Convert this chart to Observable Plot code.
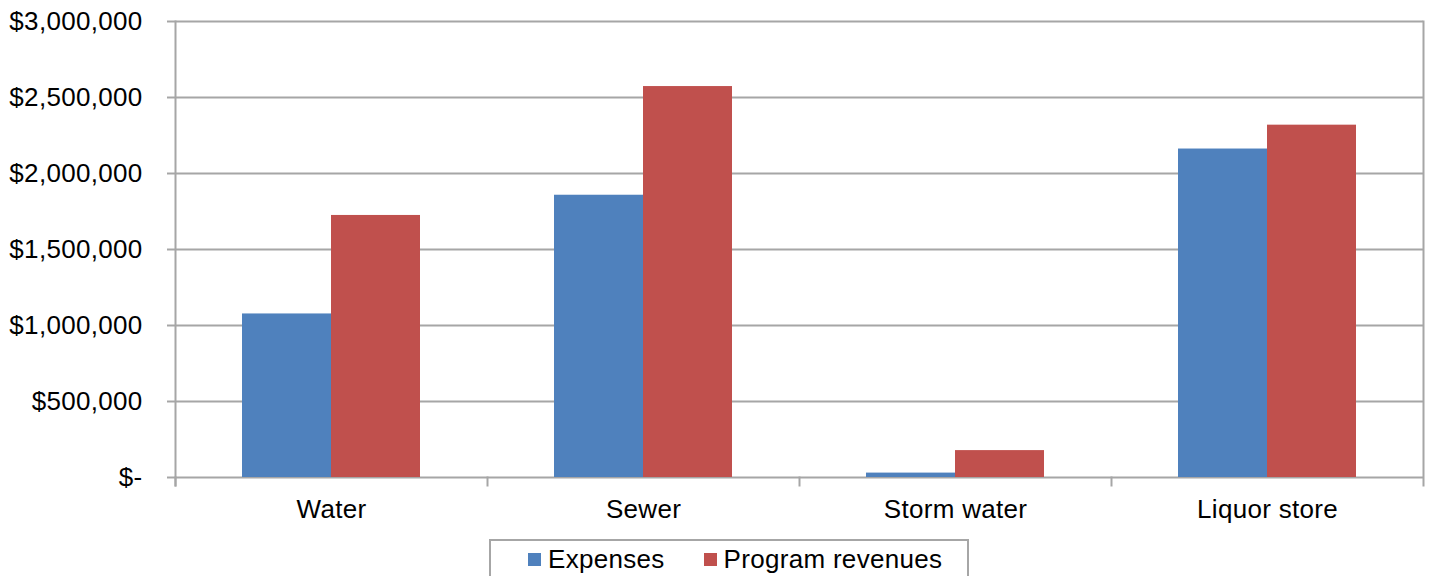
<!DOCTYPE html>
<html>
<head>
<meta charset="utf-8">
<script src="https://cdn.jsdelivr.net/npm/d3@7"></script>
<script src="https://cdn.jsdelivr.net/npm/@observablehq/plot@0.6"></script>
<style>
  body { margin: 0; background: #fff; font-family: "Liberation Sans", Arial, sans-serif; }
  #wrap { position: relative; width: 1432px; height: 576px; overflow: hidden; background: #fff; }
  #chart svg text { letter-spacing: 0.3px; }
  #legend { position: absolute; left: 489px; top: 539px; width: 480px; height: 40px; box-sizing: border-box;
            border: 2px solid #a6a6a6; display: flex; align-items: center; padding-left: 37px;
            font-size: 26px; letter-spacing: 0.3px; color: #000; }
  .sw { width: 13px; height: 13px; display: inline-block; margin-right: 7px; }
  .item { display: flex; align-items: center; }
  .item + .item { margin-left: 39px; }
</style>
</head>
<body>
<div id="wrap">
  <div id="chart"></div>
  <div id="legend"></div>
</div>
<script>
const categories = ["Water", "Sewer", "Storm water", "Liquor store"];
const seriesNames = ["Expenses", "Program revenues"];
const expenses = [1076000, 1857000, 29000, 2161000];
const revenues = [1724000, 2572000, 177000, 2318000];
const yTicks = [0, 500000, 1000000, 1500000, 2000000, 2500000, 3000000];
const colors = ["#4f81bd", "#c0504d"];

const data = [];
categories.forEach((c, i) => {
  data.push({category: c, series: seriesNames[0], value: expenses[i]});
  data.push({category: c, series: seriesNames[1], value: revenues[i]});
});

const W = 1432, H = 536, mt = 21, mb = 59, ml = 174, mr = 8;
const innerH = H - mt - mb;
const grid = "#a6a6a6";
const fmt = d => d === 0 ? "$-" : "$" + d3.format(",")(d);

const chart = Plot.plot({
  width: W, height: H,
  marginTop: mt, marginBottom: mb, marginLeft: ml, marginRight: mr,
  style: {fontFamily: "'Liberation Sans', Arial, sans-serif", fontSize: "26px", color: "#000", background: "#fff"},
  fx: {domain: categories, paddingInner: 0, paddingOuter: 0, label: null},
  x: {domain: seriesNames, paddingInner: 0, paddingOuter: 0.745, axis: null},
  y: {domain: [0, 3000000], label: null},
  color: {domain: seriesNames, range: colors},
  marks: [
    Plot.ruleY(yTicks, {stroke: grid, strokeWidth: 2}),
    Plot.barY(data, {fx: "category", x: "series", y: "value", fill: "series"}),
    Plot.frame({anchor: "left", stroke: grid, strokeWidth: 2, insetTop: innerH, insetBottom: -8}),
    Plot.frame({anchor: "left", stroke: grid, strokeWidth: 2, insetBottom: -8, facetAnchor: "left"}),
    Plot.frame({anchor: "right", stroke: grid, strokeWidth: 2, insetBottom: -8, facetAnchor: "right"}),
    Plot.axisY({ticks: yTicks, tickSize: 8, stroke: grid, strokeWidth: 2, text: null, label: null}),
    Plot.axisY({ticks: yTicks, tickSize: 0, tickPadding: 33, tickFormat: fmt, label: null, fill: "#000"}),
    Plot.axisFx({anchor: "bottom", tickSize: 0, tickPadding: 22, label: null, fill: "#000"})
  ]
});
document.getElementById("chart").appendChild(chart);

const legend = document.getElementById("legend");
seriesNames.forEach((s, i) => {
  const item = document.createElement("div");
  item.className = "item";
  const sw = document.createElement("span");
  sw.className = "sw";
  sw.style.background = colors[i];
  const t = document.createElement("span");
  t.textContent = s;
  item.appendChild(sw);
  item.appendChild(t);
  legend.appendChild(item);
});
</script>
</body>
</html>
